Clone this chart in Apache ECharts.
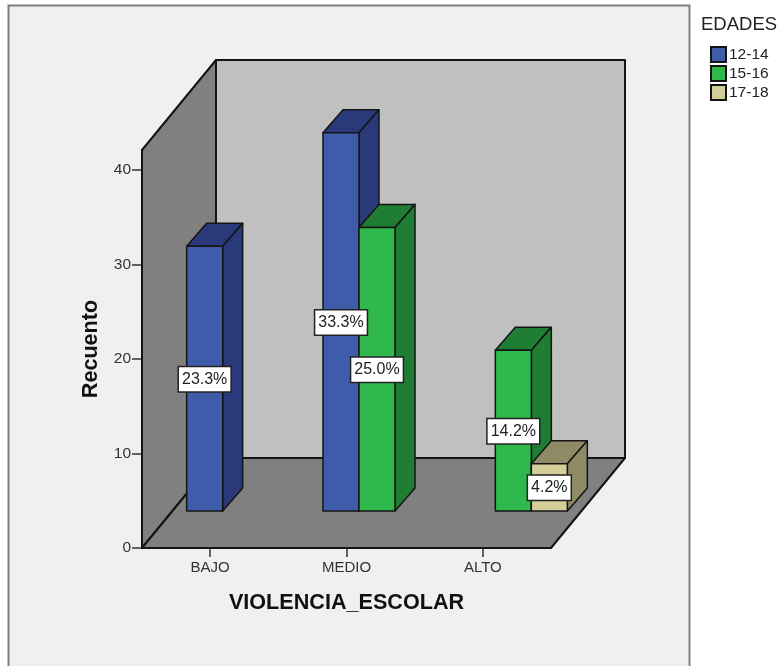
<!DOCTYPE html>
<html><head><meta charset="utf-8">
<style>html,body{margin:0;padding:0;background:#fff}#c{width:784px;height:666px}</style>
<script src="https://cdn.jsdelivr.net/npm/echarts@6/dist/echarts.min.js"></script>
</head><body><div id="c"></div>
<script>
const categories = ['BAJO', 'MEDIO', 'ALTO'];
const axisTicks = [0, 10, 20, 30, 40];
const values1214 = [28, 40, null];
const values1516 = [null, 30, 17];
const values1718 = [null, null, 5];
const pct1214 = ['23.3%', '33.3%', null];
const pct1516 = [null, '25.0%', '14.2%'];
const pct1718 = [null, null, '4.2%'];
const font = '"Liberation Sans", Arial, sans-serif';
const ink = '#141414';
const DEPTH = [74, -90], FLOOR = [30.5, -37], BAR = [20, -23], SLOT = 36;

const chart = echarts.init(document.getElementById('c'), null, {renderer: 'canvas'});

function wallsItem(params) {
  const g = params.coordSys;
  const x0 = g.x, x1 = g.x + g.width, yT = g.y, yB = g.y + g.height;
  const dx = DEPTH[0], dy = DEPTH[1];
  const st = (fill) => ({fill, stroke: ink, lineWidth: 2, lineJoin: 'round'});
  return {type: 'group', children: [
    {type: 'polygon', shape: {points: [[x0 + dx, yT + dy], [x1 + dx, yT + dy], [x1 + dx, yB + dy], [x0 + dx, yB + dy]]}, style: st('#c0c0c0')},
    {type: 'polygon', shape: {points: [[x0, yT], [x0 + dx, yT + dy], [x0 + dx, yB + dy], [x0, yB]]}, style: st('#808080')},
    {type: 'polygon', shape: {points: [[x0, yB], [x1, yB], [x1 + dx, yB + dy], [x0 + dx, yB + dy]]}, style: st('#808080')}
  ]};
}

function slotLeft(cx, slot) {
  return cx + FLOOR[0] - 1.5 * SLOT + slot * SLOT;
}

function barRenderer(slot, front, side) {
  return function (params, api) {
    const cat = api.value(0), val = api.value(1);
    const top = api.coord([cat, val]), base = api.coord([cat, 0]);
    const xL = slotLeft(top[0], slot), xR = xL + SLOT;
    const yT = top[1] + FLOOR[1], yB = base[1] + FLOOR[1];
    const bx = BAR[0], by = BAR[1];
    const st = (fill) => ({fill, stroke: ink, lineWidth: 1.5, lineJoin: 'round'});
    return {type: 'group', children: [
      {type: 'polygon', shape: {points: [[xL, yT], [xR, yT], [xR + bx, yT + by], [xL + bx, yT + by]]}, style: st(side)},
      {type: 'polygon', shape: {points: [[xR, yT], [xR + bx, yT + by], [xR + bx, yB + by], [xR, yB]]}, style: st(side)},
      {type: 'rect', shape: {x: xL, y: yT, width: SLOT, height: yB - yT}, style: st(front)}
    ]};
  };
}

function points(arr) {
  return arr.map((v, i) => v === null ? null : [i, v]).filter(Boolean);
}

function barSeries(name, slot, vals, front, side) {
  return {
    name, type: 'custom', coordinateSystem: 'cartesian2d', clip: false, z: 3 + slot,
    itemStyle: {color: front, borderColor: ink, borderWidth: 1.5},
    encode: {x: 0, y: 1},
    data: points(vals),
    renderItem: barRenderer(slot, front, side)
  };
}

const groups = [[values1214, pct1214], [values1516, pct1516], [values1718, pct1718]];
const labelRows = [];
const labelTexts = [];
groups.forEach((g, slot) => g[0].forEach((v, cat) => {
  if (v !== null) { labelRows.push([cat, v, slot]); labelTexts.push(g[1][cat]); }
}));

function labelItem(params, api) {
  const cat = api.value(0), val = api.value(1), slot = api.value(2);
  const top = api.coord([cat, val]), base = api.coord([cat, 0]);
  return {
    type: 'text',
    style: {
      x: slotLeft(top[0], slot) + SLOT / 2,
      y: (top[1] + base[1]) / 2 + FLOOR[1] + 0.5,
      text: labelTexts[params.dataIndex], align: 'center', verticalAlign: 'middle',
      font: '16px ' + font, fill: '#222', backgroundColor: '#fff',
      borderColor: '#222', borderWidth: 1.5, padding: [4, 3, 4, 3]
    }
  };
}

chart.setOption({
  animation: false,
  backgroundColor: '#ffffff',
  graphic: [
    {type: 'rect', z: -10, shape: {x: 8.5, y: 5.5, width: 681, height: 720},
     style: {fill: '#f0f0f0', stroke: '#808080', lineWidth: 2}},
    {type: 'text', left: 701, top: 15, style: {text: 'EDADES', font: '18.5px ' + font, fill: '#222'}}
  ],
  grid: {left: 142, top: 150, width: 409, height: 398, containLabel: false},
  legend: {
    orient: 'vertical', left: 710, top: 46, itemWidth: 15, itemHeight: 15, itemGap: 2,
    selectedMode: false, icon: 'rect', padding: 0,
    textStyle: {fontFamily: font, fontSize: 15.5, color: '#222', padding: [0, 0, 0, -2]},
    data: ['12-14', '15-16', '17-18']
  },
  xAxis: {
    type: 'category', data: categories,
    name: 'VIOLENCIA_ESCOLAR', nameLocation: 'middle', nameGap: 44,
    nameTextStyle: {fontFamily: font, fontSize: 21.6, fontWeight: 'bold', color: '#111'},
    axisLine: {lineStyle: {color: ink, width: 2}},
    axisTick: {show: true, alignWithLabel: true, length: 9, lineStyle: {color: '#333', width: 1.5}},
    axisLabel: {fontFamily: font, fontSize: 15, color: '#333', margin: 12, interval: 0},
    splitLine: {show: false}
  },
  yAxis: {
    type: 'value', min: 0, max: 42.1, interval: 10,
    name: 'Recuento', nameLocation: 'middle', nameGap: 40,
    nameTextStyle: {fontFamily: font, fontSize: 21.6, fontWeight: 'bold', color: '#111'},
    axisLine: {show: true, lineStyle: {color: ink, width: 2}},
    axisTick: {show: true, length: 10, customValues: axisTicks, lineStyle: {color: '#333', width: 1.5}},
    axisLabel: {fontFamily: font, fontSize: 15.5, color: '#333', margin: 11, customValues: axisTicks},
    splitLine: {show: false}
  },
  series: [
    {type: 'custom', coordinateSystem: 'cartesian2d', clip: false, z: 1, silent: true,
     data: [[0, 0]], renderItem: wallsItem},
    barSeries('12-14', 0, values1214, '#3f5cab', '#29397a'),
    barSeries('15-16', 1, values1516, '#2fb94c', '#1f7d34'),
    barSeries('17-18', 2, values1718, '#d4cf98', '#8e8b65'),
    {type: 'custom', coordinateSystem: 'cartesian2d', clip: false, z: 10, silent: true,
     encode: {x: 0, y: 1}, data: labelRows, renderItem: labelItem}
  ]
});
</script></body></html>
